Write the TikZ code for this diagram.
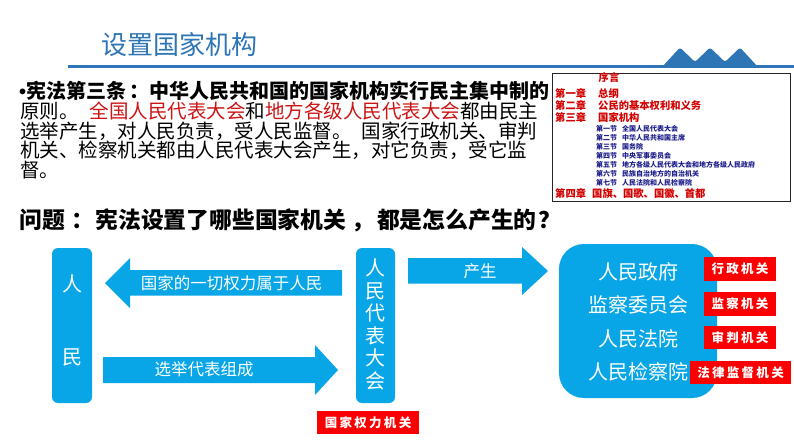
\documentclass[tikz,border=0pt]{standalone}
\usepackage{fontspec}
\setmainfont{Noto Sans CJK SC}
\newfontfamily\latinfont{Liberation Sans}
\definecolor{titleblue}{RGB}{46,117,182}
\definecolor{boxblue}{RGB}{8,166,230}
\definecolor{lblred}{RGB}{250,0,0}
\definecolor{txtred}{RGB}{204,20,20}
\definecolor{chapred}{RGB}{210,0,0}
\definecolor{secblue}{RGB}{30,30,140}
\newcommand\lsk{\kern2.3pt}
\tikzset{
  ptext/.style={anchor=west, inner sep=0pt, font=\fontsize{19.5}{19.5}\selectfont},
  chap/.style={anchor=west, inner sep=0pt, text=chapred, font=\bfseries\fontsize{10.3}{10.3}\selectfont},
  sect/.style={anchor=west, inner sep=0pt, text=secblue, font=\bfseries\fontsize{7}{7}\selectfont},
  bluebox/.style={fill=boxblue, rounded corners=6pt, inner sep=0pt},
  boxtext/.style={text=white, inner sep=0pt, font=\fontsize{20}{22.6}\selectfont},
  arrtext/.style={text=white, inner sep=0pt, font=\fontsize{16.5}{16.5}\selectfont},
  redlbl/.style={fill=lblred, text=white, inner sep=0pt, font=\bfseries\fontsize{12.5}{12.5}\selectfont},
  arrowshape/.style={fill=boxblue}
}
\begin{document}
\begin{tikzpicture}[x=1pt,y=-1pt]
\useasboundingbox (0,0) rectangle (794,447);
\fill[white] (0,0) rectangle (794,447);

% header
\node[inner sep=0pt, text=titleblue, font=\fontsize{26}{26}\selectfont] (title) at (179.5,45) {设置国家机构};
\draw[titleblue, line width=2.2pt] (68,66.5) -- (794,66.5);
\fill[titleblue, rounded corners=2.5pt] (662,67) -- (680,47.5) -- (695,62) -- (710,47.5) -- (725,62) -- (740,47.5) -- (758,67) -- cycle;

% paragraph
\node[ptext, font=\bfseries\fontsize{20}{20}\selectfont] (p1) at (19,91) {{\latinfont •}宪法第三条\hspace{3pt}：中华人民共和国的国家机构实行民主集中制的};
\node[ptext] (p2) at (20,111) {原则。\hspace{11pt}{\color{txtred}全国人民代表大会}和{\color{txtred}地方各级人民代表大会}都由民主};
\node[ptext] (p3) at (20,131) {选举产生，对人民负责，受人民监督。\hspace{10pt}国家行政机关、审判};
\node[ptext] (p4) at (20,150.5) {机关、检察机关都由人民代表大会产生，对它负责，受它监};
\node[ptext] (p5) at (20,170) {督。};

% question
\node[anchor=west, inner sep=0pt, font=\bfseries\fontsize{22.8}{22.8}\selectfont] (q) at (19,220) {问题\hspace{7pt}：\hspace{1pt}宪法设置了哪些国家机关\hspace{5pt}，\hspace{3pt}都是怎么产生的\hspace{2pt}？};

% table of contents
\node[draw=black!85, line width=0.8pt, anchor=north west, minimum width=237.5pt, minimum height=128pt, inner sep=0pt] (tbox) at (552,72.5) {};
\node[inner sep=0pt, text=chapred, font=\bfseries\fontsize{10.3}{10.3}\selectfont] (pre) at (609,78) {序言};
\node[chap] (c1) at (555,93.5) {第一章};
\node[chap] (c1t) at (598,93.5) {总纲};
\node[chap] (c2) at (555,105.5) {第二章};
\node[chap] (c2t) at (598,105.5) {公民的基本权利和义务};
\node[chap] (c3) at (555,117.5) {第三章};
\node[chap] (c3t) at (598,117.5) {国家机构};
\node[sect] (s1) at (596,129) {第一节};
\node[sect] (s1t) at (622,129) {全国人民代表大会};
\node[sect] (s2) at (596,138) {第二节};
\node[sect] (s2t) at (622,138) {中华人民共和国主席};
\node[sect] (s3) at (596,147) {第三节};
\node[sect] (s3t) at (622,147) {国务院};
\node[sect] (s4) at (596,156) {第四节};
\node[sect] (s4t) at (622,156) {中央军事委员会};
\node[sect] (s5) at (596,165) {第五节};
\node[sect] (s5t) at (622,165) {地方各级人民代表大会和地方各级人民政府};
\node[sect] (s6) at (596,174) {第六节};
\node[sect] (s6t) at (622,174) {民族自治地方的自治机关};
\node[sect] (s7) at (596,183) {第七节};
\node[sect] (s7t) at (622,183) {人民法院和人民检察院};
\node[chap] (c4) at (555,194) {第四章};
\node[chap] (c4t) at (592,194) {国旗、国歌、国徽、首都};

% flow diagram
\node[bluebox, minimum width=40pt, minimum height=155pt] (people) at (72,325.5) {};
\node[boxtext] (ren) at (72,284) {人};
\node[boxtext] (min) at (72,357) {民};

\node[bluebox, minimum width=39pt, minimum height=155pt] (npc) at (375.5,325.5) {};
\node[boxtext, align=center] (npct) at (375.5,324.5) {人\\民\\代\\表\\大\\会};

\node[bluebox, rounded corners=25pt, minimum width=158pt, minimum height=154pt] (organs) at (638,321) {};
\node[boxtext] (gov) at (638,272) {人民政府};
\node[boxtext] (sup) at (638,305) {监察委员会};
\node[boxtext] (court) at (638,339) {人民法院};
\node[boxtext] (proc) at (638,372) {人民检察院};

% block arrows
\fill[arrowshape] (342,270) -- (130,270) -- (130,258) -- (105,283) -- (130,308) -- (130,295.5) -- (342,295.5) -- cycle;
\node[arrtext] (a1) at (231.5,283) {国家的一切权力属于人民};
\fill[arrowshape] (103,357) -- (315,357) -- (315,345) -- (338,370) -- (315,395) -- (315,383) -- (103,383) -- cycle;
\node[arrtext] (a2) at (204,369) {选举代表组成};
\fill[arrowshape] (408,258) -- (522,258) -- (522,247) -- (548,271) -- (522,295) -- (522,283.5) -- (408,283.5) -- cycle;
\node[arrtext] (a3) at (480,271) {产生};

% red labels
\node[redlbl, minimum width=72pt, minimum height=24pt] (l1) at (740,269) {行\lsk 政\lsk 机\lsk 关};
\node[redlbl, minimum width=72pt, minimum height=24pt] (l2) at (740,304) {监\lsk 察\lsk 机\lsk 关};
\node[redlbl, minimum width=72pt, minimum height=23pt] (l3) at (740,337.5) {审\lsk 判\lsk 机\lsk 关};
\node[redlbl, minimum width=101pt, minimum height=23pt] (l4) at (740.5,372.5) {法\lsk 律\lsk 监\lsk 督\lsk 机\lsk 关};
\node[redlbl, minimum width=102pt, minimum height=23pt] (l5) at (368,422.5) {国\lsk 家\lsk 权\lsk 力\lsk 机\lsk 关};
\end{tikzpicture}
\end{document}
